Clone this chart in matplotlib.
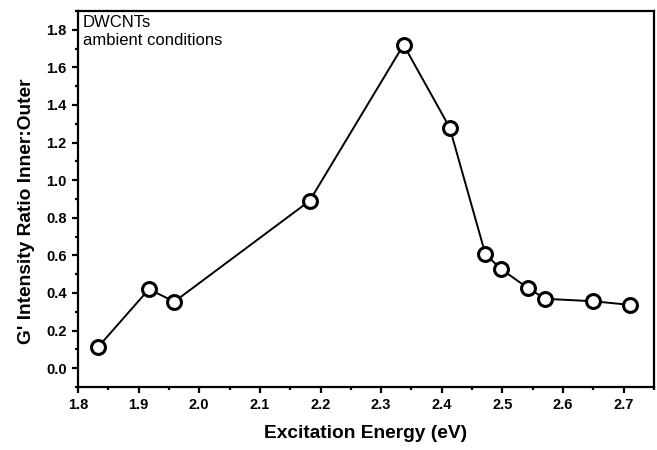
import matplotlib
matplotlib.use("Agg")
import matplotlib.pyplot as plt
import matplotlib.ticker as ticker

plt.rcParams["font.family"] = ["Liberation Sans", "DejaVu Sans"]

energy = [1.833, 1.917, 1.959, 2.182, 2.337, 2.413, 2.472, 2.498, 2.543, 2.571, 2.650, 2.710]
ratio = [0.112, 0.420, 0.354, 0.890, 1.720, 1.280, 0.606, 0.527, 0.424, 0.369, 0.356, 0.337]

fig = plt.figure(figsize=(6.57, 4.5), dpi=100)
ax = fig.add_axes([0.1187, 0.14, 0.8767, 0.8356])

ax.plot(energy, ratio, color="black", linewidth=1.4, marker="o", markersize=10,
        markerfacecolor="white", markeredgecolor="black", markeredgewidth=2.2)

ax.set_xlim(1.8, 2.75)
ax.set_ylim(-0.1, 1.9)
ax.xaxis.set_major_locator(ticker.MultipleLocator(0.1))
ax.xaxis.set_minor_locator(ticker.MultipleLocator(0.05))
ax.yaxis.set_major_locator(ticker.MultipleLocator(0.2))
ax.yaxis.set_minor_locator(ticker.MultipleLocator(0.1))
ax.xaxis.set_major_formatter(ticker.FormatStrFormatter("%.1f"))
ax.yaxis.set_major_formatter(ticker.FormatStrFormatter("%.1f"))

for s in ax.spines.values():
    s.set_linewidth(1.6)
ax.tick_params(which="both", direction="out", width=1.6, top=False, right=False)
ax.tick_params(which="major", length=4.5, labelsize=10.5)
ax.tick_params(which="minor", length=2.5)
for lab in ax.get_xticklabels() + ax.get_yticklabels():
    lab.set_fontweight("bold")

ax.set_xlabel("Excitation Energy (eV)", fontsize=13.8, fontweight="bold", labelpad=9)
ax.set_ylabel("G' Intensity Ratio Inner:Outer", fontsize=13.8, fontweight="bold")
ax.yaxis.set_label_coords(-0.074, 0.468)

ax.text(0.008, 0.99, "DWCNTs\nambient conditions", transform=ax.transAxes,
        ha="left", va="top", fontsize=12, linespacing=1.25)

fig.savefig("out.png", dpi=100)
